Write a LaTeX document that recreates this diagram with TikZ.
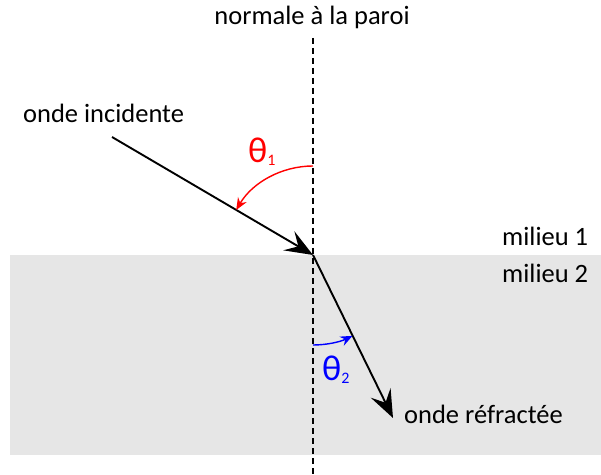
\documentclass[tikz,border=0pt]{standalone}
\usepackage{fontspec}
\setmainfont{Carlito}
\usetikzlibrary{arrows.meta,calc}
\definecolor{wall}{HTML}{E6E6E6}

\begin{document}
\begin{tikzpicture}[x=1pt,y=1pt,
  ray/.style={black,line width=1.9pt,-{Stealth[length=28pt,width=22pt,inset=11pt]}},
  angarc/.style={line width=1.4pt,-{Stealth[length=12pt,width=10pt,inset=4pt]}},
  lbl/.style={font=\fontsize{26.5}{30}\selectfont,anchor=base west,inner sep=0pt},
  ang/.style={font=\fontsize{36}{40}\selectfont,anchor=base west,inner sep=0pt}]
  \useasboundingbox (0,0) rectangle (601,474);
  % second medium
  \fill[wall] (10,19) rectangle (601,219);
  \coordinate (O) at (313,219);
  \coordinate (ntop) at (313,436);
  \coordinate (nbot) at (313,0);
  \coordinate (src) at (112,337);
  \coordinate (dst) at (393,56);
  % normal
  \draw[line width=1.6pt,dash pattern=on 6pt off 4pt] (ntop) -- (nbot);
  % rays
  \draw[ray] (src) -- (O);
  \draw[ray] (O) -- (dst);
  % angles
  \draw[angarc,red] ($(O)+(0,89)$) arc[start angle=90,end angle=149.6,radius=89];
  \draw[angarc,blue] ($(O)+(0,-90)$) arc[start angle=-90,end angle=-64,radius=90];
  \node[lbl,anchor=base] (normal) at (312,449) {normale à la paroi};
  \node[lbl] (inc) at (23,351) {onde incidente};
  \node[lbl] (med1) at (502,228) {milieu 1};
  \node[lbl] (med2) at (502,192) {milieu 2};
  \node[lbl] (refr) at (404,51) {onde réfractée};
  \node[ang,red] (th1) at (248,311) {θ\raisebox{-3pt}{\fontsize{16}{18}\selectfont 1}};
  \node[ang,blue] (th2) at (322,94) {θ\raisebox{-3pt}{\fontsize{16}{18}\selectfont 2}};
\end{tikzpicture}
\end{document}
